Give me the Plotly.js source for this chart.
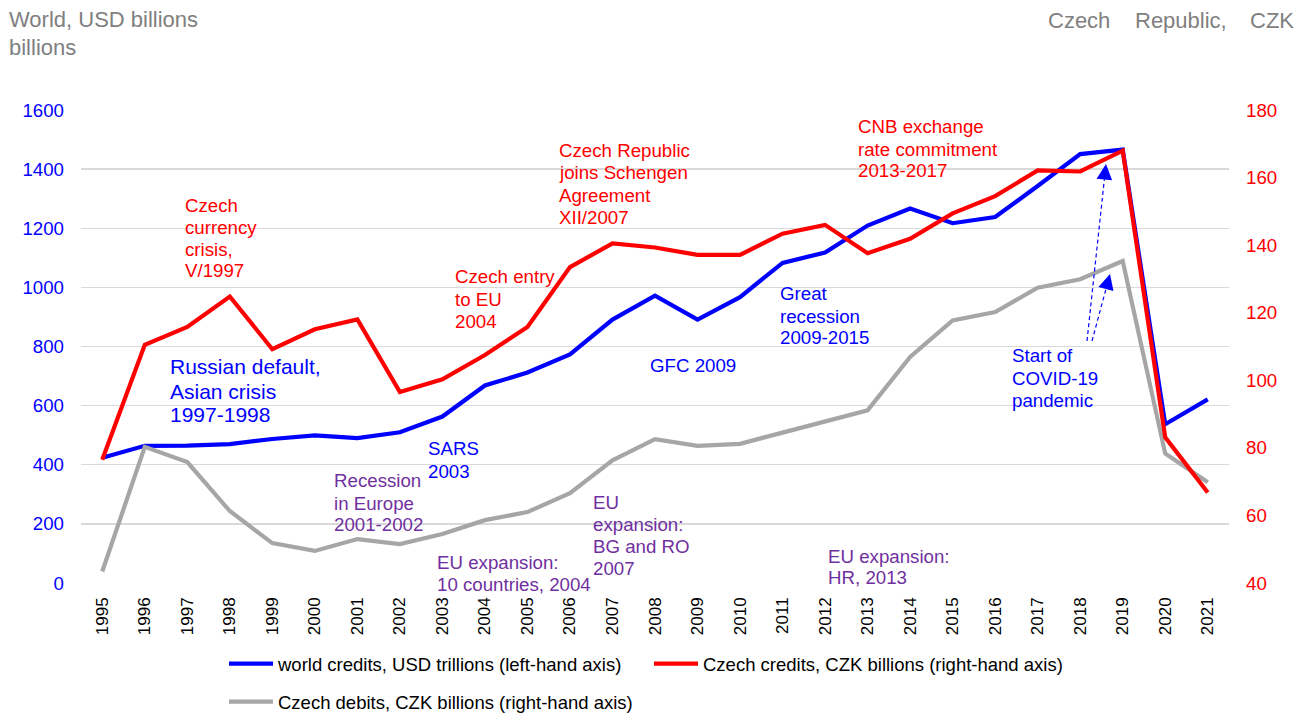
<!DOCTYPE html>
<html>
<head>
<meta charset="utf-8">
<script src="https://cdn.plot.ly/plotly-3.0.1.min.js"></script>
<style>html,body{margin:0;padding:0;background:#fff;}#chart{width:1306px;height:713px;}</style>
</head>
<body>
<div id="chart"></div>
<script>
// ---- data ----
const years = ["1995","1996","1997","1998","1999","2000","2001","2002","2003","2004","2005","2006","2007","2008","2009","2010","2011","2012","2013","2014","2015","2016","2017","2018","2019","2020","2021"];
const worldCredits = [424,464,465,470,487,499,490,510,563,668,712,773,891,972,891,967,1083,1118,1209,1267,1217,1238,1343,1451,1466,537,621];
const czechCredits = [76.5,110.5,115.8,124.8,109.2,115.1,118.0,96.5,100.3,107.5,115.8,133.5,140.5,139.3,137.1,137.1,143.4,146.0,137.6,141.9,149.4,154.5,162.1,161.8,168.0,83.1,66.8];
const czechDebits = [43.4,80.3,75.8,61.3,51.8,49.5,53.0,51.5,54.5,58.6,61.0,66.6,76.3,82.6,80.6,81.2,84.5,87.8,91.1,106.9,117.7,120.2,127.4,129.9,135.3,78.3,69.8];
const seriesNames = ["world credits, USD trillions (left-hand axis)","Czech credits, CZK billions (right-hand axis)","Czech debits, CZK billions (right-hand axis)"];

// ---- layout helpers ----
const W = 1306, H = 713;
const L = 81, R = 1229, T = 110, B = 583;
const px = x => (x - L) / (R - L);
const py = y => (B - y) / (B - T);
const FONT = "Liberation Sans, Arial, sans-serif";
const BLUE = "#0000FF", RED = "#FF0000", GRAY = "#A6A6A6", PURPLE = "#7030A0", TXTGRAY = "#7F7F7F";

const notes = [
  {lines:["Czech","currency","crisis,","V/1997"], x:183, y:[205,227.5,249,270.5], c:RED, s:18.7},
  {lines:["Russian default,","Asian crisis","1997-1998"], x:168, y:[366,391,414], c:BLUE, s:21},
  {lines:["SARS","2003"], x:426, y:[448.5,471.5], c:BLUE, s:18.7},
  {lines:["Recession","in Europe","2001-2002"], x:332, y:[480.5,503,524.5], c:PURPLE, s:18.7},
  {lines:["EU expansion:","10 countries, 2004"], x:434.5, y:[562,584.5], c:PURPLE, s:18.7},
  {lines:["Czech entry","to EU","2004"], x:452.5, y:[276.5,299,321], c:RED, s:18.7},
  {lines:["Czech Republic","joins Schengen","Agreement","XII/2007"], x:556.5, y:[150.5,173,195,217], c:RED, s:18.7},
  {lines:["EU","expansion:","BG and RO","2007"], x:590.5, y:[502.5,524.5,546.5,568.5], c:PURPLE, s:18.7},
  {lines:["GFC 2009"], x:647.5, y:[365], c:BLUE, s:18.7},
  {lines:["Great","recession","2009-2015"], x:777.5, y:[293.5,316,337.5], c:BLUE, s:18.7},
  {lines:["CNB exchange","rate commitment","2013-2017"], x:856, y:[126.5,149,170.5], c:RED, s:18.7},
  {lines:["EU expansion:","HR, 2013"], x:825.5, y:[556,577], c:PURPLE, s:18.7},
  {lines:["Start of","COVID-19","pandemic"], x:1010, y:[355.5,378,400], c:BLUE, s:18.7}
];
const titles = [
  {t:"World, USD billions", x:7, y:19},
  {t:"billions", x:7, y:47},
  {t:"Czech", x:1045.5, y:20},
  {t:"Republic,", x:1132.5, y:20},
  {t:"CZK", x:1248, y:20}
];
const arrows = [
  {x0:1087, y0:341, x1:1106, y1:164},
  {x0:1092, y0:341, x1:1110, y1:274}
];

const annotations = [];
notes.forEach(n => n.lines.forEach((ln, i) => {
  annotations.push({text: ln, xref:"paper", yref:"paper", x: px(n.x), y: py(n.y[i]),
    xanchor:"left", yanchor:"middle", showarrow:false, align:"left",
    font:{family:FONT, size:n.s, color:n.c}});
}));
titles.forEach(t => annotations.push({text:t.t, xref:"paper", yref:"paper", x:px(t.x), y:py(t.y),
  xanchor:"left", yanchor:"middle", showarrow:false, font:{family:FONT, size:22, color:TXTGRAY}}));

const shapes = [];
arrows.forEach(a => {
  const dx = a.x1 - a.x0, dy = a.y1 - a.y0, len = Math.hypot(dx, dy);
  shapes.push({type:"line", xref:"paper", yref:"paper", x0:px(a.x0), y0:py(a.y0), x1:px(a.x1 - dx/len*6), y1:py(a.y1 - dy/len*6),
    line:{color:BLUE, width:1.2, dash:"4px,3px"}});
  annotations.push({text:"", xref:"paper", yref:"paper", x:px(a.x1), y:py(a.y1),
    ax: -dx/len*12, ay: -dy/len*12, showarrow:true, arrowhead:2, arrowsize:2.6, arrowwidth:1.2, arrowcolor:BLUE});
});

const traces = [
  {x:years, y:worldCredits, name:seriesNames[0], type:"scatter", mode:"lines", yaxis:"y", line:{color:BLUE, width:4.2}, legend:"legend"},
  {x:years, y:czechCredits, name:seriesNames[1], type:"scatter", mode:"lines", yaxis:"y2", line:{color:RED, width:4.2}, legend:"legend"},
  {x:years, y:czechDebits, name:seriesNames[2], type:"scatter", mode:"lines", yaxis:"y2", line:{color:GRAY, width:4.2}, legend:"legend2"}
];
// draw red above blue, grey at bottom
const order = [traces[2], traces[0], traces[1]];

const layout = {
  width:W, height:H,
  margin:{l:L, r:W-R, t:T, b:H-B, pad:0, autoexpand:false},
  paper_bgcolor:"#fff", plot_bgcolor:"#fff",
  font:{family:FONT, color:"#000"},
  showlegend:true,
  xaxis:{type:"category", range:[-0.5, 26.5], tickangle:-90, showgrid:false, zeroline:false, showline:false, automargin:false,
    ticks:"", ticklabelstandoff:10, tickfont:{family:FONT, size:17, color:"#000"}, fixedrange:true},
  yaxis:{range:[0,1600], dtick:200, tick0:0, showgrid:true, gridcolor:"#D9D9D9", gridwidth:1.3, zeroline:false, showline:false, automargin:false,
    ticks:"", ticklabelstandoff:16, tickfont:{family:FONT, size:18.7, color:BLUE}},
  yaxis2:{range:[40,180], dtick:20, tick0:40, overlaying:"y", side:"right", showgrid:false, zeroline:false, showline:false, automargin:false,
    ticks:"", ticklabelstandoff:16, tickfont:{family:FONT, size:18.7, color:RED}},
  legend:{orientation:"h", xref:"paper", yref:"paper", x:px(224), y:py(664), xanchor:"left", yanchor:"middle",
    font:{family:FONT, size:18.5, color:"#000"}, itemwidth:44, entrywidth:366, entrywidthmode:"pixels", traceorder:"normal", bgcolor:"rgba(0,0,0,0)"},
  legend2:{orientation:"h", xref:"paper", yref:"paper", x:px(224), y:py(702), xanchor:"left", yanchor:"middle",
    font:{family:FONT, size:18.5, color:"#000"}, itemwidth:44, bgcolor:"rgba(0,0,0,0)"},
  annotations:annotations,
  shapes:shapes
};

Plotly.newPlot("chart", order, layout, {displayModeBar:false, staticPlot:true});
</script>
</body>
</html>
